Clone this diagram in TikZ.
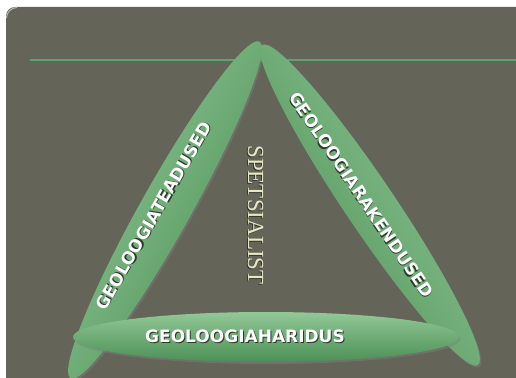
\documentclass[tikz,border=0pt]{standalone}
\usepackage{fontspec}
\setmainfont{DejaVu Sans}
\newfontfamily\bandfont{DejaVu Sans}
\newfontfamily\titlefont{Liberation Serif}
\usetikzlibrary{shapes.geometric,shadows}

\definecolor{slate}{HTML}{646558}
\definecolor{gLight}{HTML}{92C897}
\definecolor{gDark}{HTML}{4C9056}
\definecolor{ruleGreen}{HTML}{5DA36A}
\definecolor{cream}{HTML}{E8E7C5}
\definecolor{textShade}{HTML}{2E3A2C}

% text with a small dark offset copy underneath
\newcommand\shadowed[1]{\makebox[0pt][l]{\hspace{1pt}\raisebox{-1pt}{\textcolor{textShade}{#1}}}#1}

\begin{document}
\begin{tikzpicture}[x=1pt,y=-1pt,
  petal/.style={ellipse, minimum width=386pt, minimum height=50pt, inner sep=0pt,
    top color=gLight, bottom color=gDark,
    drop shadow={opacity=0.45, shadow xshift=1.5pt, shadow yshift=-2pt}},
  bandtext/.style={text=white, inner sep=0pt, font=\bandfont\bfseries\fontsize{17}{17}\selectfont},
  sidetext/.style={text=cream, inner sep=0pt, font=\titlefont\fontsize{23}{23}\selectfont},
  rule/.style={draw=ruleGreen, line width=1.6pt}]

\useasboundingbox (0,0) rectangle (516,377);
\fill[white] (0,0) rectangle (516,377);
\fill[slate, rounded corners=9pt] (6,7) rectangle (530,390);
\draw[white!55!slate, line width=1pt] (6.5,18) arc[start angle=180, end angle=90, radius=10.5pt];

% horizontal rule behind the petals
\coordinate (ruleL) at (30,60);
\coordinate (ruleR) at (516,60);
\draw[rule] (ruleL) -- (ruleR);

% the three petals
\node[petal, rotate=60.7, shading angle=60.7] (teadused) at (165,210) {};
\node[petal, rotate=-56, shading angle=-56] (rakendused) at (370,205) {};
\node[petal, shading angle=0] (haridus) at (266,337) {};

% labels
\node[bandtext, rotate=60] (lblteadused) at (154,216) {\shadowed{GEOLOOGIATEADUSED}};
\node[bandtext, rotate=-56] (lblrakendused) at (361,195) {\shadowed{GEOLOOGIARAKENDUSED}};
\node[bandtext] (lblharidus) at (245,337) {\shadowed{GEOLOOGIAHARIDUS}};
\node[sidetext, rotate=-90] (spetsialist) at (255,215) {\shadowed{SPETSIALIST}};
\end{tikzpicture}
\end{document}
